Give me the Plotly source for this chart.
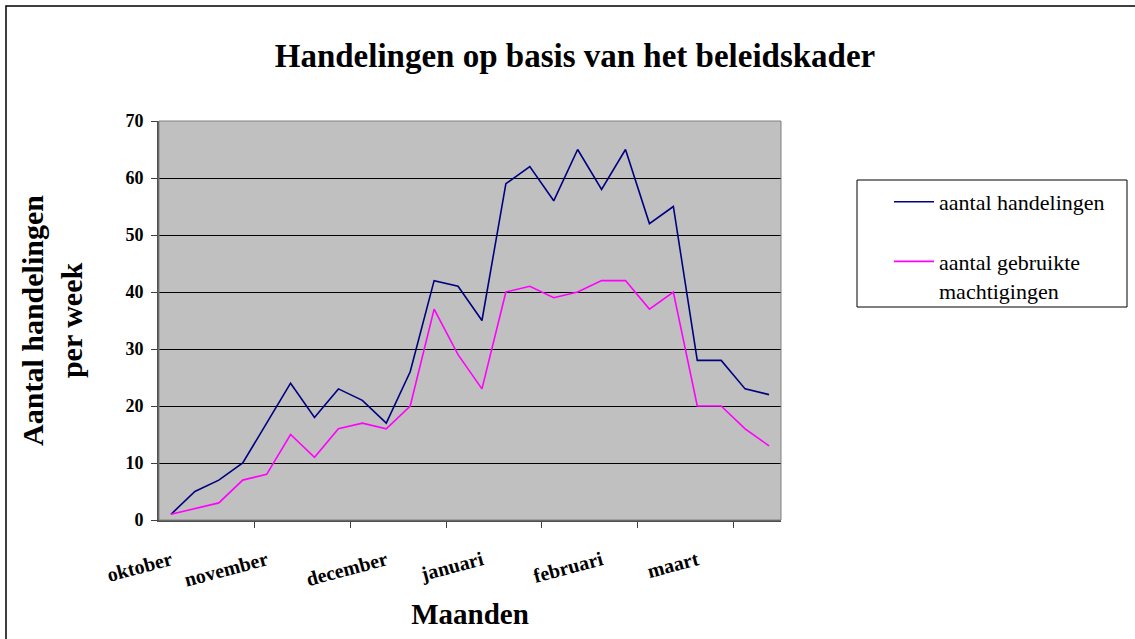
import plotly.graph_objects as go

weeks = list(range(1, 27))
week_labels = ["oktober", "", "", "", "november", "", "", "", "", "december",
               "", "", "", "januari", "", "", "", "", "februari", "", "", "",
               "maart", "", "", ""]
handelingen = [1, 5, 7, 10, 17, 24, 18, 23, 21, 17, 26, 42, 41, 35, 59, 62,
               56, 65, 58, 65, 52, 55, 28, 28, 23, 22]
machtigingen = [1, 2, 3, 7, 8, 15, 11, 16, 17, 16, 20, 37, 29, 23, 40, 41,
                39, 40, 42, 42, 37, 40, 20, 20, 16, 13]
series_names = ["aantal handelingen", "aantal gebruikte<br>machtigingen"]
y_ticks = [0, 10, 20, 30, 40, 50, 60, 70]

FONT = "Liberation Serif, Times New Roman, Tinos, serif"
x_pos = [w - 0.5 for w in weeks]
label_vals = [w - 0.5 for w, l in zip(weeks, week_labels) if l]
label_text = ["<b>%s</b>" % l for l in week_labels if l]
minor_vals = [w for w in weeks if w % 4 == 0 and w < len(weeks)]

L, R, T, B = 159, 354, 121, 119
PW, PH = 1135 - L - R, 639 - T - B


def px_x(p):
    return (p - L) / PW


def px_y(p):
    return (639 - B - p) / PH


fig = go.Figure()
fig.add_trace(go.Scatter(x=x_pos, y=handelingen, mode="lines",
                         name=series_names[0], legendgroup="a",
                         line=dict(color="#000080", width=1.6)))
fig.add_trace(go.Scatter(x=x_pos, y=machtigingen, mode="lines",
                         name=series_names[1], legendgroup="b",
                         line=dict(color="#FF00FF", width=1.6)))

fig.update_layout(
    width=1135, height=639,
    margin=dict(l=L, r=R, t=T, b=B),
    paper_bgcolor="white", plot_bgcolor="#C0C0C0",
    font=dict(family=FONT, color="black"),
    title=dict(text="<b>Handelingen op basis van het beleidskader</b>",
               x=575 / 1135, xref="container", xanchor="center",
               y=1 - 55 / 639, yref="container", yanchor="middle",
               font=dict(size=33, family=FONT, color="black")),
    showlegend=True,
    legend=dict(x=px_x(889), y=px_y(181), xanchor="left", yanchor="top",
                borderwidth=0, bgcolor="rgba(0,0,0,0)",
                font=dict(size=22, family=FONT, color="black"),
                tracegroupgap=28, itemwidth=40,
                valign="top", traceorder="grouped"),
    xaxis=dict(range=[0, len(weeks)], tickmode="array", tickvals=label_vals,
               ticktext=label_text, tickangle=-15, ticks="",
               tickfont=dict(size=20, family=FONT), ticklabelstandoff=19,
               showgrid=False, zeroline=False,
               showline=True, linecolor="#505050", linewidth=2, mirror=False,
               minor=dict(tickmode="array", tickvals=minor_vals, ticks="outside",
                          ticklen=6, tickwidth=1, tickcolor="#404040", showgrid=False),
               title=dict(text="<b>Maanden</b>", font=dict(size=29, family=FONT),
                          standoff=14)),
    yaxis=dict(range=[0, 70], tickmode="array", tickvals=y_ticks,
               ticktext=["<b>%d</b>" % v for v in y_ticks],
               tickfont=dict(size=18, family=FONT),
               ticks="outside", ticklen=6, tickcolor="#404040",
               showgrid=True, gridcolor="black", gridwidth=1,
               zeroline=False, showline=True, linecolor="#505050",
               linewidth=2, mirror=False, ticklabelstandoff=4,
               title=dict(text="<b>Aantal handelingen<br>per week</b>",
                          font=dict(size=30, family=FONT), standoff=34)),
    shapes=[
        dict(type="rect", xref="paper", yref="paper", x0=0, x1=1, y0=0, y1=1,
             line=dict(color="#808080", width=1), layer="above"),
        dict(type="rect", xref="paper", yref="paper",
             x0=px_x(6), x1=px_x(1145), y0=px_y(650), y1=px_y(6),
             line=dict(color="black", width=1.5)),
        dict(type="rect", xref="paper", yref="paper",
             x0=px_x(857), x1=px_x(1127), y0=px_y(307), y1=px_y(180),
             line=dict(color="black", width=1), fillcolor="white", layer="below"),
    ],
)

fig.write_html("out.html", config={"displayModeBar": False},
               post_script="document.body.style.margin='0';document.body.style.overflow='hidden';")
